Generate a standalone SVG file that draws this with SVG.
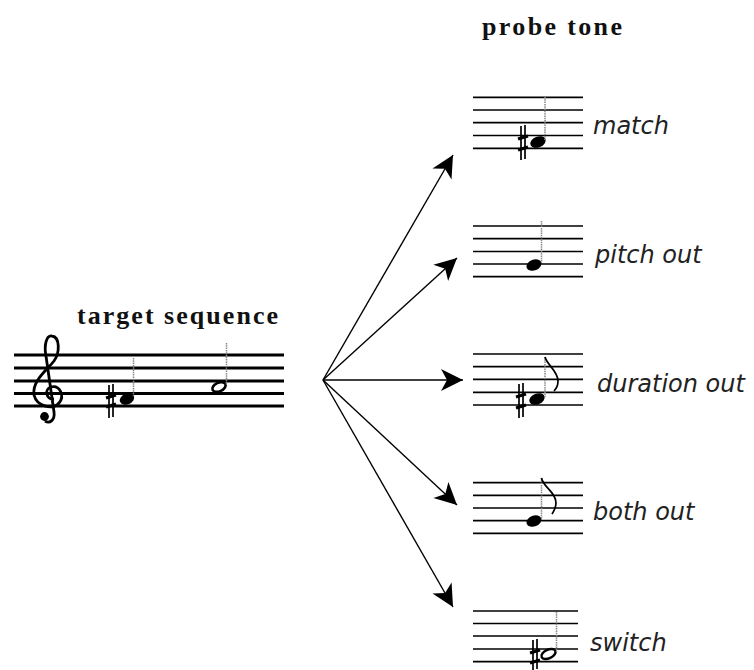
<svg xmlns="http://www.w3.org/2000/svg" width="754" height="670" viewBox="0 0 754 670">
<style>
.title{font-family:"Liberation Serif","Times New Roman",serif;font-weight:bold;font-size:26px;fill:#111}
.lab{font-family:"DejaVu Sans",sans-serif;font-style:italic;font-size:24px;fill:#222}
.staffT line{stroke:#000;stroke-width:2.8}
.staffP line{stroke:#000;stroke-width:1.7}
.stem{stroke:#888;stroke-width:1.5;stroke-dasharray:1.5 0.8}
.sharp line.v{stroke:#000;stroke-width:1.7}
.sharp line.h{stroke:#000;stroke-width:3.2}
.flag{fill:none;stroke:#000;stroke-width:1.7}
.conn line{stroke:#000;stroke-width:1.4}
</style>
<defs>
<marker id="ah" markerUnits="userSpaceOnUse" viewBox="-24 -12 26 24" refX="0" refY="0" markerWidth="26" markerHeight="24" orient="auto">
<path d="M0,0 L-22,-11 L-16,0 L-22,11 Z" fill="#000"/>
</marker>
</defs>
<rect width="754" height="670" fill="#fff"/>

<g id="target">
<text class="title" x="77" y="324" textLength="201" lengthAdjust="spacing">target sequence</text>
<g class="staffT">
<line x1="14" y1="355" x2="284" y2="355"/>
<line x1="14" y1="368" x2="284" y2="368"/>
<line x1="14" y1="381" x2="284" y2="381"/>
<line x1="14" y1="393.5" x2="284" y2="393.5"/>
<line x1="14" y1="406" x2="284" y2="406"/>
</g>
<g id="clef">
<path d="M54,399 C46,400 44,389 51,387 C60,385 65,396 59,403 C53,410 37,407 34,395 C32,381 46,371 54,361 C60,353 60,337 52,336 C46,335 44,346 46,356 L54,412 C55,420 50,424 45,421" fill="none" stroke="#000" stroke-width="2.8"/>
<circle cx="44.5" cy="416.5" r="4.4" fill="#000"/>
</g>
<g class="sharp">
<line class="v" x1="109" y1="385" x2="109" y2="418"/>
<line class="v" x1="113" y1="384" x2="113" y2="417"/>
<line class="h" x1="106" y1="398" x2="116" y2="395"/>
<line class="h" x1="106" y1="407" x2="116" y2="404"/>
</g>
<ellipse cx="127" cy="399" rx="7.5" ry="5.4" transform="rotate(-22 127 399)" fill="#000"/>
<line class="stem" x1="133.5" y1="358" x2="133.5" y2="397"/>
<ellipse cx="219" cy="387" rx="7" ry="4.3" transform="rotate(-25 219 387)" fill="none" stroke="#000" stroke-width="2.6"/>
<line class="stem" x1="226.5" y1="343" x2="226.5" y2="385"/>
</g>

<text class="title" x="482" y="35" textLength="140" lengthAdjust="spacing">probe tone</text>

<g class="conn">
<line x1="323" y1="380" x2="453" y2="155" marker-end="url(#ah)"/>
<line x1="323" y1="380" x2="457" y2="258" marker-end="url(#ah)"/>
<line x1="323" y1="380" x2="463" y2="380" marker-end="url(#ah)"/>
<line x1="323" y1="380" x2="457" y2="505" marker-end="url(#ah)"/>
<line x1="323" y1="380" x2="453" y2="607" marker-end="url(#ah)"/>
</g>

<g id="probe-match">
<g class="staffP">
<line x1="473" y1="97.3" x2="583" y2="97.3"/>
<line x1="473" y1="110" x2="583" y2="110"/>
<line x1="473" y1="122.7" x2="583" y2="122.7"/>
<line x1="473" y1="135.5" x2="583" y2="135.5"/>
<line x1="473" y1="148.3" x2="583" y2="148.3"/>
</g>
<g class="sharp">
<line class="v" x1="521" y1="126" x2="521" y2="160"/>
<line class="v" x1="525" y1="125" x2="525" y2="159"/>
<line class="h" x1="518" y1="139" x2="528" y2="136"/>
<line class="h" x1="518" y1="150" x2="528" y2="147"/>
</g>
<ellipse cx="538" cy="142" rx="8" ry="5.4" transform="rotate(-22 538 142)" fill="#000"/>
<line class="stem" x1="545" y1="97" x2="545" y2="140"/>
<text class="lab" x="593" y="134">match</text>
</g>

<g id="probe-pitch">
<g class="staffP">
<line x1="473" y1="226" x2="583" y2="226"/>
<line x1="473" y1="238.7" x2="583" y2="238.7"/>
<line x1="473" y1="251.5" x2="583" y2="251.5"/>
<line x1="473" y1="264" x2="583" y2="264"/>
<line x1="473" y1="276.7" x2="583" y2="276.7"/>
</g>
<ellipse cx="534" cy="265" rx="7.8" ry="5.4" transform="rotate(-22 534 265)" fill="#000"/>
<line class="stem" x1="541.5" y1="221" x2="541.5" y2="263"/>
<text class="lab" x="595" y="263">pitch out</text>
</g>

<g id="probe-duration">
<g class="staffP">
<line x1="473" y1="354" x2="583" y2="354"/>
<line x1="473" y1="366.7" x2="583" y2="366.7"/>
<line x1="473" y1="379.3" x2="583" y2="379.3"/>
<line x1="473" y1="392.3" x2="583" y2="392.3"/>
<line x1="473" y1="405" x2="583" y2="405"/>
</g>
<g class="sharp">
<line class="v" x1="519" y1="384" x2="519" y2="418"/>
<line class="v" x1="523" y1="383" x2="523" y2="417"/>
<line class="h" x1="516" y1="397" x2="526" y2="394"/>
<line class="h" x1="516" y1="408" x2="526" y2="405"/>
</g>
<ellipse cx="537" cy="399" rx="8" ry="5.4" transform="rotate(-22 537 399)" fill="#000"/>
<line class="stem" x1="545" y1="357" x2="545" y2="397"/>
<path class="flag" d="M545,357 C547,365 558,371 558,381 C558,386 556,389 554,391"/>
<text class="lab" x="597" y="392">duration out</text>
</g>

<g id="probe-both">
<g class="staffP">
<line x1="473" y1="482.7" x2="583" y2="482.7"/>
<line x1="473" y1="495.3" x2="583" y2="495.3"/>
<line x1="473" y1="508" x2="583" y2="508"/>
<line x1="473" y1="520.7" x2="583" y2="520.7"/>
<line x1="473" y1="533.3" x2="583" y2="533.3"/>
</g>
<ellipse cx="534" cy="521" rx="7.8" ry="5.4" transform="rotate(-22 534 521)" fill="#000"/>
<line class="stem" x1="541.5" y1="478" x2="541.5" y2="519"/>
<path class="flag" d="M541.5,478 C543,487 556,492 556,503 C556,508 554,511 552,514"/>
<text class="lab" x="593" y="520">both out</text>
</g>

<g id="probe-switch">
<g class="staffP">
<line x1="473" y1="611" x2="578" y2="611"/>
<line x1="473" y1="623.5" x2="578" y2="623.5"/>
<line x1="473" y1="636" x2="578" y2="636"/>
<line x1="473" y1="649" x2="578" y2="649"/>
<line x1="473" y1="661.7" x2="578" y2="661.7"/>
</g>
<g class="sharp">
<line class="v" x1="533" y1="640" x2="533" y2="670"/>
<line class="v" x1="537" y1="639" x2="537" y2="669"/>
<line class="h" x1="530" y1="653" x2="540" y2="650"/>
<line class="h" x1="530" y1="663" x2="540" y2="660"/>
</g>
<ellipse cx="548.5" cy="654" rx="7.5" ry="4.3" transform="rotate(-25 548.5 654)" fill="none" stroke="#000" stroke-width="2.4"/>
<line class="stem" x1="556.5" y1="612" x2="556.5" y2="652"/>
<text class="lab" x="590" y="651">switch</text>
</g>
</svg>
